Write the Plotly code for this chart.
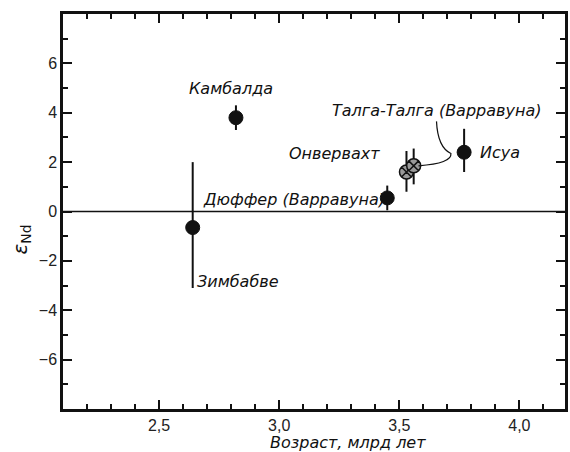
import plotly.graph_objects as go

# Data
names = ["Зимбабве", "Камбалда", "Дюффер (Варравуна)", "Онвервахт", "Талга-Талга (Варравуна)", "Исуа"]
age = [2.64, 2.82, 3.45, 3.53, 3.56, 3.77]
eps = [-0.65, 3.8, 0.55, 1.6, 1.85, 2.4]
err_up = [2.65, 0.5, 0.5, 0.85, 0.7, 0.95]
err_dn = [2.45, 0.5, 0.5, 0.8, 0.75, 0.8]

xticks = [2.5, 3.0, 3.5, 4.0]
xticklabels = ["2,5", "3,0", "3,5", "4,0"]
yticks = [-6, -4, -2, 0, 2, 4, 6]
yticklabels = ["−6", "−4", "−2", "0", "2", "4", "6"]

fig = go.Figure()

solid = [0, 1, 2, 5]
fig.add_trace(go.Scatter(
    x=[age[i] for i in solid], y=[eps[i] for i in solid], mode="markers",
    marker=dict(size=14, color="#111", line=dict(color="#111", width=1)),
    error_y=dict(type="data", symmetric=False,
                 array=[err_up[i] for i in solid], arrayminus=[err_dn[i] for i in solid],
                 thickness=2, width=0, color="#111"),
    showlegend=False))

hatched = [3, 4]
fig.add_trace(go.Scatter(
    x=[age[i] for i in hatched], y=[eps[i] for i in hatched], mode="markers",
    marker=dict(size=14, color="#9a9a9a", symbol="circle-x", line=dict(color="#111", width=1.5)),
    error_y=dict(type="data", symmetric=False,
                 array=[err_up[i] for i in hatched], arrayminus=[err_dn[i] for i in hatched],
                 thickness=2, width=0, color="#111"),
    showlegend=False))

# zero line
fig.add_hline(y=0, line=dict(color="#111", width=1.5))

# leader line for Талга-Талга
fig.add_shape(type="path", xref="x", yref="y",
              path="M 3.655,3.65 Q 3.66,2.6 3.715,2.35 Q 3.72,1.95 3.58,1.85",
              line=dict(color="#111", width=1.2))

lab_font = dict(family="DejaVu Sans", size=16, color="#111")
labels = [
    (names[0], 2.83, -2.82),
    (names[1], 2.80, 5.0),
    (names[2], 3.06, 0.5),
    (names[3], 3.23, 2.33),
    (names[4], 3.657, 4.1),
    (names[5], 3.92, 2.4),
]
for t, x, y in labels:
    fig.add_annotation(x=x, y=y, text="<i>" + t + "</i>", showarrow=False,
                       font=lab_font, xanchor="center", yanchor="middle")

fig.add_annotation(xref="paper", yref="paper", x=0.568, y=-0.086,
                   text="<i>Возраст, млрд лет</i>", showarrow=False,
                   font=dict(family="DejaVu Sans", size=16, color="#111"),
                   xanchor="center", yanchor="middle")

fig.add_annotation(xref="paper", yref="paper", x=-0.083, y=0.43,
                   text="<i>ε</i><sub>Nd</sub>", showarrow=False, textangle=-90,
                   font=dict(family="DejaVu Sans", size=20, color="#111"),
                   xanchor="center", yanchor="middle")

axis_common = dict(showline=True, linewidth=2.5, linecolor="#111", mirror="allticks",
                   ticks="inside", ticklen=9, tickwidth=2, tickcolor="#111",
                   showgrid=False, zeroline=False,
                   tickfont=dict(family="Liberation Sans", size=16, color="#222"))

fig.update_xaxes(range=[2.1, 4.19], tickvals=xticks, ticktext=xticklabels,
                 minor=dict(ticks="inside", dtick=0.1, tick0=2.0, ticklen=5, tickwidth=2, tickcolor="#111"),
                 **axis_common)
fig.update_yaxes(range=[-8, 8], tickvals=yticks, ticktext=yticklabels,
                 minor=dict(ticks="inside", tickvals=[-7, -5, -3, -1, 1, 3, 5, 7], ticklen=5, tickwidth=2, tickcolor="#111"),
                 **axis_common)

fig.update_layout(width=570, height=452, margin=dict(l=63, r=2, t=14, b=43),
                  plot_bgcolor="white", paper_bgcolor="white")

fig.write_html("out.html")
